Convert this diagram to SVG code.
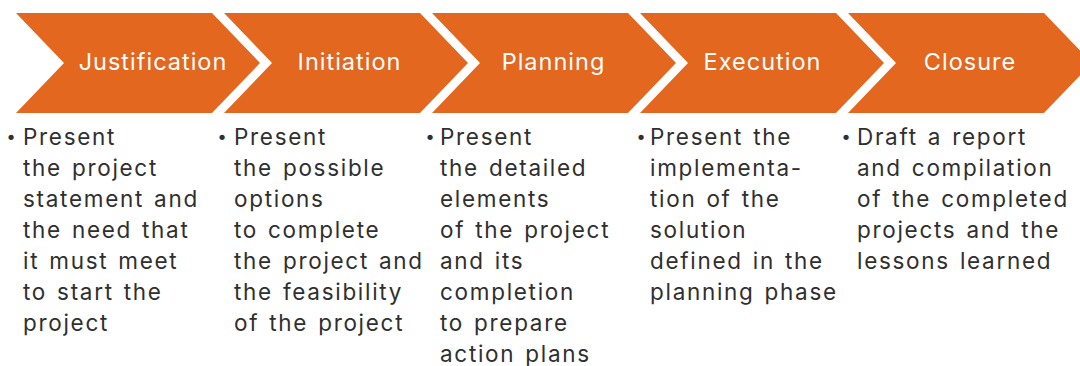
<svg xmlns="http://www.w3.org/2000/svg" width="1080" height="366" viewBox="0 0 1080 366">
<style>
.chev{fill:#E3671F}
.title{font-family:Inter,"Open Sans","Liberation Sans",sans-serif;font-size:23.5px;fill:#ffffff;text-anchor:middle;letter-spacing:1px}
.body{font-family:Inter,"Open Sans","Liberation Sans",sans-serif;font-size:22.5px;fill:#2f2f2f;letter-spacing:1.7px;word-spacing:2px}
.bullet{font-family:"DejaVu Sans","Liberation Sans",sans-serif;font-size:18px;fill:#2f2f2f;text-anchor:middle}
</style>
<rect width="1080" height="366" fill="#ffffff"/>
<g id="connectors"></g>
<g id="justification">
<polygon class="chev" points="16,13 212,13 260,63 212,113 16,113 64,63"/>
<text class="title" x="153" y="69.5">Justification</text>
<text class="bullet" x="11" y="143.5">•</text>
<text class="body" x="23" y="145"><tspan x="23">Present</tspan><tspan x="23" dy="31">the project</tspan><tspan x="23" dy="31">statement and</tspan><tspan x="23" dy="31">the need that</tspan><tspan x="23" dy="31">it must meet</tspan><tspan x="23" dy="31">to start the</tspan><tspan x="23" dy="31">project</tspan></text>
</g>
<g id="initiation">
<polygon class="chev" points="224,13 420,13 468,63 420,113 224,113 272,63"/>
<text class="title" x="349.5" y="69.5">Initiation</text>
<text class="bullet" x="222" y="143.5">•</text>
<text class="body" x="234" y="145"><tspan x="234">Present</tspan><tspan x="234" dy="31">the possible</tspan><tspan x="234" dy="31">options</tspan><tspan x="234" dy="31">to complete</tspan><tspan x="234" dy="31">the project and</tspan><tspan x="234" dy="31">the feasibility</tspan><tspan x="234" dy="31">of the project</tspan></text>
</g>
<g id="planning">
<polygon class="chev" points="432,13 628,13 676,63 628,113 432,113 480,63"/>
<text class="title" x="553.5" y="69.5">Planning</text>
<text class="bullet" x="430" y="143.5">•</text>
<text class="body" x="440" y="145"><tspan x="440">Present</tspan><tspan x="440" dy="31">the detailed</tspan><tspan x="440" dy="31">elements</tspan><tspan x="440" dy="31">of the project</tspan><tspan x="440" dy="31">and its</tspan><tspan x="440" dy="31">completion</tspan><tspan x="440" dy="31">to prepare</tspan><tspan x="440" dy="31">action plans</tspan></text>
</g>
<g id="execution">
<polygon class="chev" points="640,13 836,13 884,63 836,113 640,113 688,63"/>
<text class="title" x="762.5" y="69.5">Execution</text>
<text class="bullet" x="641" y="143.5">•</text>
<text class="body" x="650" y="145"><tspan x="650">Present the</tspan><tspan x="650" dy="31">implementa-</tspan><tspan x="650" dy="31">tion of the</tspan><tspan x="650" dy="31">solution</tspan><tspan x="650" dy="31">defined in the</tspan><tspan x="650" dy="31">planning phase</tspan></text>
</g>
<g id="closure">
<polygon class="chev" points="848,13 1044,13 1092,63 1044,113 848,113 896,63"/>
<text class="title" x="970" y="69.5">Closure</text>
<text class="bullet" x="846" y="143.5">•</text>
<text class="body" x="857" y="145"><tspan x="857">Draft a report</tspan><tspan x="857" dy="31">and compilation</tspan><tspan x="857" dy="31">of the completed</tspan><tspan x="857" dy="31">projects and the</tspan><tspan x="857" dy="31">lessons learned</tspan></text>
</g>
</svg>
